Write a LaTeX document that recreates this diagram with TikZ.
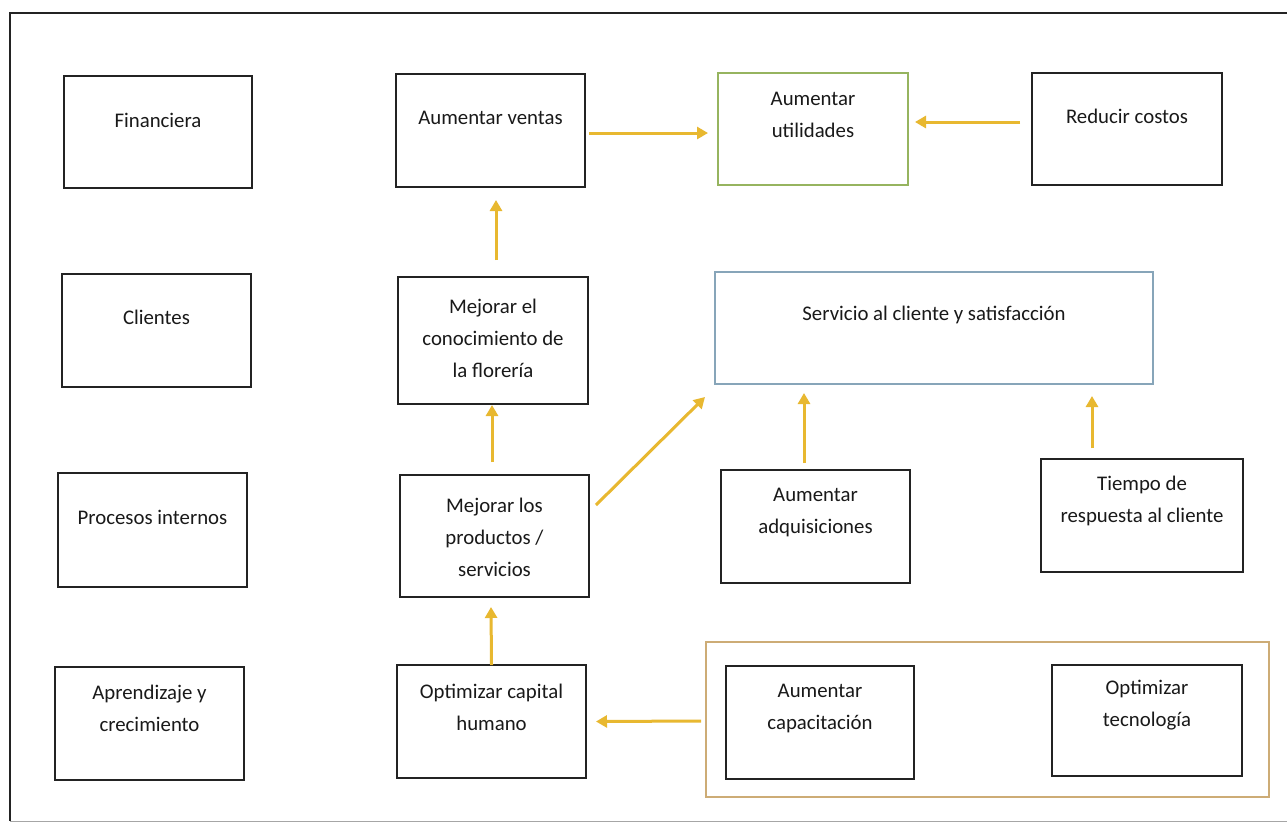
\documentclass[tikz,border=0pt]{standalone}
\usepackage{fontspec}
\setmainfont{Carlito}
\usetikzlibrary{arrows.meta,calc}
\definecolor{gold}{RGB}{232,184,48}
\definecolor{boxline}{RGB}{35,35,35}
\definecolor{greenline}{RGB}{150,180,95}
\definecolor{blueline}{RGB}{135,165,185}
\definecolor{tanline}{RGB}{205,172,118}
\definecolor{txtcol}{RGB}{25,25,25}
\tikzset{
  blackbox/.style={draw=boxline, line width=2pt},
  greenbox/.style={draw=greenline, line width=1.6pt},
  bluebox/.style={draw=blueline, line width=1.6pt},
  tanbox/.style={draw=tanline, line width=1.8pt},
  lbl/.style={align=center, text=txtcol, inner sep=0pt, font=\fontsize{20.8pt}{32pt}\selectfont},
  arr/.style={draw=gold, line width=3pt, -{Triangle[length=11pt,width=12pt]}}
}
% style, name, x1, y1, x2, y2, text offset, text
\newcommand\mybox[8]{%
  \node[#1, rectangle, inner sep=0pt, outer sep=0pt,
        minimum width={(#5-#3)*1pt}, minimum height={(#6-#4)*1pt}]
        (#2) at ({(#3+#5)/2},{(#4+#6)/2}) {};
  \node[lbl] (#2-t) at ([yshift={-(#7)*1pt}]#2.center) {#8};
}
\begin{document}
\begin{tikzpicture}[x=1pt,y=-1pt]
\useasboundingbox (0,0) rectangle (1287,823);
\fill[white] (0,0) rectangle (1287,823);
% outer frame
\draw[line width=2pt, boxline] (1295,13) -- (10,13) -- (10,821);
\draw[line width=0.8pt, black!35] (10,821) -- (1295,821);

% left column
\mybox{blackbox}{fin}{64}{76}{252}{188}{-12}{Financiera}
\mybox{blackbox}{cli}{62}{274}{251}{387}{-13.5}{Clientes}
\mybox{blackbox}{pro}{58}{473}{247}{587}{-13}{Procesos internos}
\mybox{blackbox}{apr}{55}{667}{244}{780}{-15.5}{Aprendizaje y\\crecimiento}

% middle column
\mybox{blackbox}{ven}{396}{74}{585}{187}{-12.5}{Aumentar ventas}
\mybox{blackbox}{con}{398}{277}{588}{404}{-2.5}{Mejorar el\\conocimiento de\\la florería}
\mybox{blackbox}{prd}{400}{475}{589}{597}{1}{Mejorar los\\productos /\\servicios}
\mybox{blackbox}{cap}{397}{665}{586}{778}{-14.5}{Optimizar capital\\humano}

% right part
\mybox{greenbox}{uti}{718}{73}{908}{185}{-14.5}{Aumentar\\utilidades}
\mybox{blackbox}{red}{1032}{73}{1222}{185}{-13}{Reducir costos}
\mybox{bluebox}{ser}{715}{272}{1153}{384}{-13}{Servicio al cliente y satisfacción}
\mybox{blackbox}{adq}{721}{470}{910}{583}{-14.5}{Aumentar\\adquisiciones}
\mybox{blackbox}{tie}{1041}{459}{1243}{572}{-14.5}{Tiempo de\\respuesta al cliente}
\node[tanbox, rectangle, inner sep=0pt, outer sep=0pt, minimum width=563pt, minimum height=155pt]
  (frm) at (987.5,719.5) {};
\mybox{blackbox}{capa}{726}{666}{914}{779}{-14}{Aumentar\\capacitación}
\mybox{blackbox}{tec}{1052}{665}{1242}{776}{-15}{Optimizar\\tecnología}

% connectors
\draw[arr] ([xshift=4pt,yshift=-2.5pt]ven.east) -- ([xshift=-10pt,yshift=-4pt]uti.west);
\draw[arr] ([xshift=-12pt,yshift=7pt]red.west) -- ([xshift=7pt,yshift=7pt]uti.east);
\draw[arr] ([xshift=3pt,yshift=17pt]con.north) -- ([xshift=5.5pt,yshift=-13pt]ven.south);
\draw[arr] ([xshift=-2.5pt,yshift=13pt]prd.north) -- ([xshift=-1pt,yshift=-1pt]con.south);
\draw[arr] (cap.north) -- ([xshift=-3.5pt,yshift=-10pt]prd.south);
\draw[arr] ([xshift=7pt,yshift=31pt]prd.east) -- ([xshift=-10pt,yshift=-13pt]ser.south west);
\draw[arr] ([xshift=-11.5pt,yshift=7pt]adq.north) -- ([xshift=89pt,yshift=-9pt]ser.south west);
\draw[arr] ([xshift=-50pt,yshift=11pt]tie.north) -- ([xshift=-61pt,yshift=-12pt]ser.south east);
\draw[arr] ([xshift=-5pt,yshift=-1.5pt]frm.west) -- ([xshift=10pt]cap.east);
\end{tikzpicture}
\end{document}
